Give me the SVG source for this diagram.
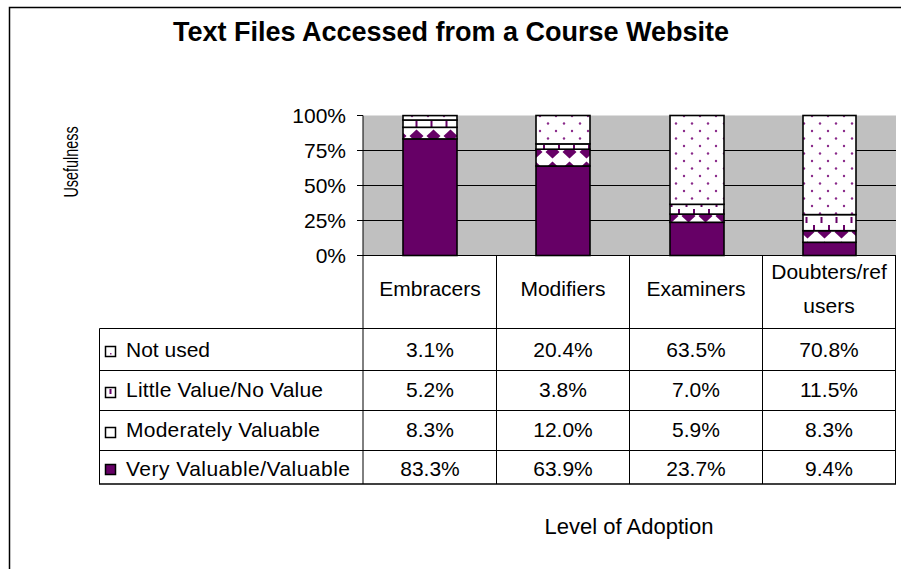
<svg xmlns="http://www.w3.org/2000/svg" width="901" height="569" viewBox="0 0 901 569">
<style>
text{font-family:"Liberation Sans",Arial,sans-serif;fill:#000}
.t{font-size:21px}
.c{text-anchor:middle}
.r{text-anchor:end}
.ln{stroke:#000;stroke-width:1;fill:none}
.seg{stroke:#000;stroke-width:1.6}
</style>
<defs>
<pattern id="dots" width="16" height="15" patternUnits="userSpaceOnUse"><rect width="16" height="15" fill="#fff"/><circle cx="4" cy="3.5" r="1.2" fill="#8a2a8a"/><circle cx="12" cy="11" r="1.2" fill="#8a2a8a"/></pattern>
<pattern id="dash" width="15" height="16" patternUnits="userSpaceOnUse"><rect width="15" height="16" fill="#fff"/><rect x="3" y="1" width="2" height="6" fill="#660066"/><rect x="10.5" y="9" width="2" height="6" fill="#660066"/></pattern>
<pattern id="diam" width="17" height="16" patternUnits="userSpaceOnUse"><rect width="17" height="16" fill="#fff"/><polygon points="8.5,1.5 15.5,8 8.5,14.5 1.5,8" fill="#660066"/></pattern>
</defs>
<rect x="9.5" y="7.5" width="900" height="580" fill="#fff" stroke="#000" stroke-width="1.5"/>
<text x="451" y="41" class="c" style="font-size:27px;font-weight:bold">Text Files Accessed from a Course Website</text>
<g id="plot">
<rect x="363" y="115.5" width="533" height="140" fill="#c0c0c0"/>
<path class="ln" d="M363 150.5H896M363 185.5H896M363 220.5H896"/>
</g>
<g id="axis">
<path class="ln" d="M363 115.5V484M357 115.5H363M357 150.5H363M357 185.5H363M357 220.5H363M357 255.5H896"/>
<text x="346" y="122.5" class="t r">100%</text>
<text x="346" y="157.5" class="t r">75%</text>
<text x="346" y="192.5" class="t r">50%</text>
<text x="346" y="227.5" class="t r">25%</text>
<text x="346" y="262.5" class="t r">0%</text>
<text transform="translate(78,162) rotate(-90) scale(0.72,1)" class="c" style="font-size:20px">Usefulness</text>
</g>
<g id="bar-embracers">
<rect class="seg" x="403" y="138.9" width="54" height="116.6" fill="#660066"/>
<rect class="seg" x="403" y="127.3" width="54" height="11.6" fill="url(#diam)"/>
<rect class="seg" x="403" y="120" width="54" height="7.3" fill="url(#dash)"/>
<rect class="seg" x="403" y="115.6" width="54" height="4.4" fill="url(#dots)"/>
</g>
<g id="bar-modifiers">
<rect class="seg" x="536" y="166" width="54" height="89.5" fill="#660066"/>
<rect class="seg" x="536" y="149.2" width="54" height="16.8" fill="url(#diam)"/>
<rect class="seg" x="536" y="143.9" width="54" height="5.3" fill="url(#dash)"/>
<rect class="seg" x="536" y="115.5" width="54" height="28.4" fill="url(#dots)"/>
</g>
<g id="bar-examiners">
<rect class="seg" x="670" y="222.3" width="54" height="33.2" fill="#660066"/>
<rect class="seg" x="670" y="214.1" width="54" height="8.2" fill="url(#diam)"/>
<rect class="seg" x="670" y="204.3" width="54" height="9.8" fill="url(#dash)"/>
<rect class="seg" x="670" y="115.5" width="54" height="88.8" fill="url(#dots)"/>
</g>
<g id="bar-doubters">
<rect class="seg" x="803" y="242.3" width="53" height="13.2" fill="#660066"/>
<rect class="seg" x="803" y="230.7" width="53" height="11.6" fill="url(#diam)"/>
<rect class="seg" x="803" y="214.6" width="53" height="16.1" fill="url(#dash)"/>
<rect class="seg" x="803" y="115.5" width="53" height="99.1" fill="url(#dots)"/>
</g>
<g id="table">
<path class="ln" d="M496.5 255.5V484M629.5 255.5V484M762.5 255.5V484M895.5 255.5V484M99.5 328.5V484M99.5 328.5H896M99.5 370.5H896M99.5 410.5H896M99.5 450.5H896"/>
<path d="M99 484H896" stroke="#000" stroke-width="1.5"/>
<text x="430" y="296" class="t c">Embracers</text>
<text x="563" y="296" class="t c">Modifiers</text>
<text x="696" y="296" class="t c">Examiners</text>
<text x="829" y="279" class="t c">Doubters/ref</text>
<text x="829" y="313" class="t c">users</text>
<rect x="105.5" y="346.5" width="10" height="10" fill="#fff" stroke="#000" stroke-width="1.5"/>
<rect x="110" y="353" width="1.5" height="1.5" fill="#8a2a8a"/>
<rect x="105.5" y="387.5" width="10" height="10" fill="#fff" stroke="#000" stroke-width="1.5"/>
<rect x="109.5" y="389" width="2" height="5" fill="#660066"/>
<rect x="105.5" y="427.5" width="10" height="10" fill="#fff" stroke="#000" stroke-width="1.5"/>
<rect x="105.5" y="464.5" width="10" height="10" fill="#660066" stroke="#000" stroke-width="1.5"/>
<text x="126" y="356.5" class="t">Not used</text>
<text x="126" y="397" class="t" textLength="197" lengthAdjust="spacing">Little Value/No Value</text>
<text x="126" y="437" class="t" textLength="194" lengthAdjust="spacing">Moderately Valuable</text>
<text x="126" y="476" class="t" textLength="224" lengthAdjust="spacing">Very Valuable/Valuable</text>
<text x="430" y="356.5" class="t c">3.1%</text>
<text x="563" y="356.5" class="t c">20.4%</text>
<text x="696" y="356.5" class="t c">63.5%</text>
<text x="829" y="356.5" class="t c">70.8%</text>
<text x="430" y="397" class="t c">5.2%</text>
<text x="563" y="397" class="t c">3.8%</text>
<text x="696" y="397" class="t c">7.0%</text>
<text x="829" y="397" class="t c">11.5%</text>
<text x="430" y="437" class="t c">8.3%</text>
<text x="563" y="437" class="t c">12.0%</text>
<text x="696" y="437" class="t c">5.9%</text>
<text x="829" y="437" class="t c">8.3%</text>
<text x="430" y="476" class="t c">83.3%</text>
<text x="563" y="476" class="t c">63.9%</text>
<text x="696" y="476" class="t c">23.7%</text>
<text x="829" y="476" class="t c">9.4%</text>
</g>
<text x="629" y="534" class="c" style="font-size:22px">Level of Adoption</text>
</svg>
